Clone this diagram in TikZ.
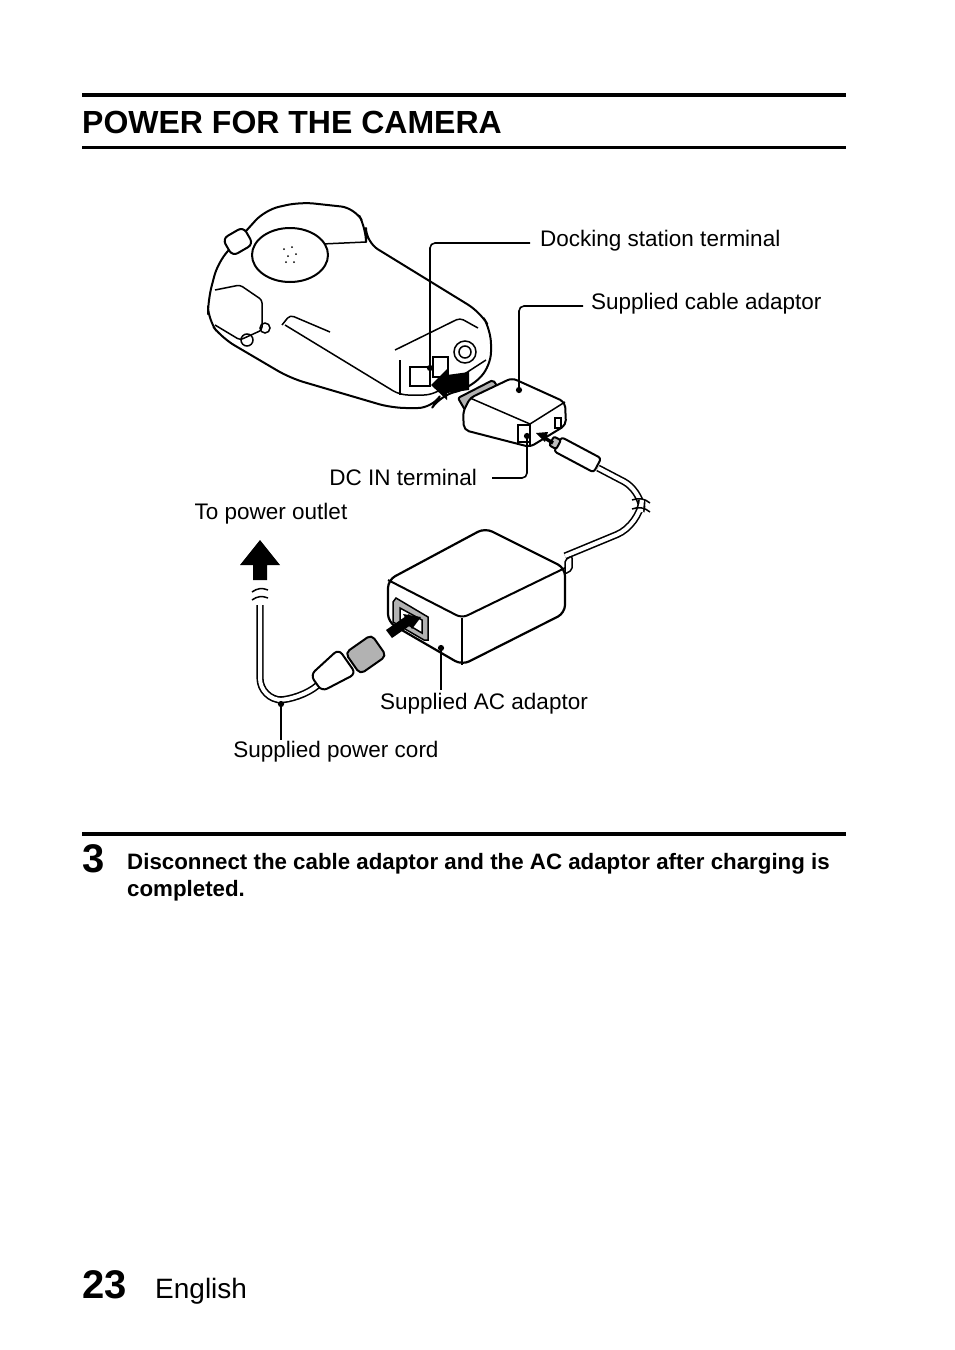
\documentclass[tikz,border=0pt]{standalone}
\usepackage{fontspec}
\setmainfont{Liberation Sans}
\begin{document}
\begin{tikzpicture}[x=1pt,y=-1pt,
  obj/.style={draw,line width=2pt,fill=white,rounded corners=6pt,line join=round},
  thin/.style={line width=1.5pt},
  lead/.style={line width=1.6pt,rounded corners=5pt},
  dot/.style={circle,fill,inner sep=2.2pt},
  lbl/.style={font=\fontsize{22.5}{26}\selectfont,inner sep=0pt},
  cord/.style={line width=1.6pt,double=white,double distance=4pt}]
\useasboundingbox (0,0) rectangle (954,1350);
% header
\draw[line width=4pt] (82,95) -- (846,95);
\draw[line width=3pt] (82,147) -- (846,147);
\node[anchor=base west,inner sep=0pt,font=\fontsize{32}{36}\selectfont\bfseries] (title) at (82,133) {POWER FOR THE CAMERA};
% camera
\draw[obj,rounded corners=14pt] (208,300) -- (218,262) -- (265,210) -- (300,202) -- (355,208) -- (366,228) -- (366,242) -- (480,312) -- (491,330) -- (491,366) -- (470,388) -- (440,396) -- (432,408) -- (392,408) -- (290,378) -- (222,338) -- (208,320) -- cycle;
\draw[thin,rounded corners=6pt] (366,242) -- (300,245);
\draw[thin,rounded corners=8pt] (285,325) -- (400,395) -- (432,395) -- (486,360);
\draw[thin] (400,360) -- (400,395);
\draw[thin,rounded corners=4pt] (395,350) -- (460,318) -- (478,328);
\draw[thin,rounded corners=4pt] (282,325) -- (290,315) -- (330,332);
\draw[obj] (290,255) ellipse (38 and 27);
\foreach \p in {(284,249),(292,247),(288,256),(296,254),(286,262),(294,262)} \fill \p circle (1);
\draw[obj,rotate around={30:(237,242)}] (226,232) rectangle (250,252);
\draw[thin,rounded corners=3pt] (215,290) -- (240,285) -- (262,300) -- (262,330) -- (240,340) -- (215,325);
\draw[thin] (247,340) circle (6);
\draw[thin] (265,328) circle (5);
\draw[thin] (465,352) circle (11);
\draw[thin] (465,352) circle (6);
\draw[thin] (410,367) rectangle (430,386);
\draw[thin] (433,357) rectangle (448,377);
\fill (431,385) -- (447,369) -- (447,375) -- (469,372) -- (469,390) -- (447,393) -- (447,400) -- cycle;
% cable adaptor
\draw[obj,fill=gray!60,rounded corners=2pt] (458,398) -- (493,380) -- (500,390) -- (465,410) -- cycle;
\draw[obj,rounded corners=5pt] (470,398) -- (512,378) -- (565,402) -- (566,425) -- (530,447) -- (464,430) -- (463,412) -- cycle;
\draw[thin] (470,398) -- (530,424) -- (565,402);
\draw[thin] (530,424) -- (530,447);
\draw[thin,fill=white] (518,425) rectangle (530,442);
\draw[thin] (555,418) rectangle (561,428);
% DC plug and cord
\draw[cord,rounded corners=18pt] (598,468) -- (640,490) -- (641,500);
\draw[cord,rounded corners=25pt] (641,512) -- (640,525) -- (565,556);
\draw[obj,fill=white,rounded corners=3pt,rotate around={-28:(578,455)}] (555,447) rectangle (600,463);
\draw[obj,fill=gray!50,rounded corners=2pt,rotate around={-28:(578,455)}] (548,450) rectangle (556,460);
\draw[thin] (632,500) to[bend left] (650,503);
\draw[thin] (632,509) to[bend left] (650,512);
\fill (536,433) -- (548,432) -- (545,442) -- cycle;
\draw[line width=3.5pt] (543,437) -- (553,443);
% AC adaptor
\draw[obj,line width=2.2pt,rounded corners=8pt] (388,580) -- (485,528) -- (565,568) -- (565,613) -- (462,665) -- (388,622) -- cycle;
\draw[line width=2pt,rounded corners=6pt] (388,580) -- (462,618) -- (565,568);
\draw[line width=2pt] (462,618) -- (462,665);
\draw[obj,line width=1.5pt,fill=white,rounded corners=2pt] (565,560) -- (572,556) -- (572,570) -- (565,574) -- cycle;
\draw[thin,fill=gray!60] (393,602) -- (396,598) -- (428,617) -- (428,640) -- (424,640) -- (393,622) -- cycle;
\draw[thin,fill=white] (400,608) -- (422,620) -- (422,633) -- (400,620) -- cycle;
\fill (409,614) -- (386,630) -- (392,638) -- (415,622) -- cycle;
\fill (421,617) -- (403,614) -- (412,629) -- cycle;
% power plug & cord
\draw[cord,rounded corners=22pt] (318,685) -- (300,700) -- (260,700) -- (260,605);
\draw[obj,fill=gray!60,rounded corners=5pt,rotate around={35:(365,655)}] (350,642) rectangle (382,668);
\draw[obj,fill=white,rounded corners=6pt,rotate around={35:(335,670)}] (312,660) -- (350,655) -- (350,685) -- (312,680) -- cycle;
\draw[thin] (252,592) to[bend left] (268,590);
\draw[thin] (252,600) to[bend left] (268,598);
\fill (240,565) -- (260,540) -- (280,565) -- (267,565) -- (267,580) -- (253,580) -- (253,565) -- cycle;
% leaders
\node[dot] (d1) at (430,368) {};
\node[lbl,anchor=west] (t1) at (540,241) {Docking station terminal};
\draw[lead] (d1.center) -- (430,243) -- (530,243);
\node[dot] (d2) at (519,390) {};
\node[lbl,anchor=west] (t2) at (591,304) {Supplied cable adaptor};
\draw[lead] (d2.center) -- (519,306) -- (583,306);
\node[dot] (d3) at (527,436) {};
\node[lbl,anchor=east] (t3) at (477,477) {DC IN terminal};
\draw[lead] (d3.center) -- (527,478) -- (492,478);
\node[dot] (d4) at (441,648) {};
\node[lbl] (t4) at (484,704) {Supplied AC adaptor};
\draw[lead] (d4.center) -- (441,690);
\node[dot] (d5) at (281,704) {};
\node[lbl] (t5) at (336,752) {Supplied power cord};
\draw[lead] (d5.center) -- (281,740);
\node[lbl] (t6) at (271,514) {To power outlet};
% step
\draw[line width=4pt] (82,834) -- (846,834);
\node[anchor=base west,inner sep=0pt,font=\fontsize{40}{44}\selectfont\bfseries] (n3) at (82,872) {3};
\node[anchor=north west,inner sep=0pt,align=left,font=\fontsize{22.3}{27}\selectfont\bfseries] (s3) at (127,853) {Disconnect the cable adaptor and the AC adaptor after charging is\\completed.};
% footer
\node[anchor=base west,inner sep=0pt,font=\fontsize{40}{44}\selectfont\bfseries] (pg) at (82,1298) {23};
\node[anchor=base west,inner sep=0pt,font=\fontsize{28}{32}\selectfont] (en) at (155,1298) {English};
\end{tikzpicture}
\end{document}
